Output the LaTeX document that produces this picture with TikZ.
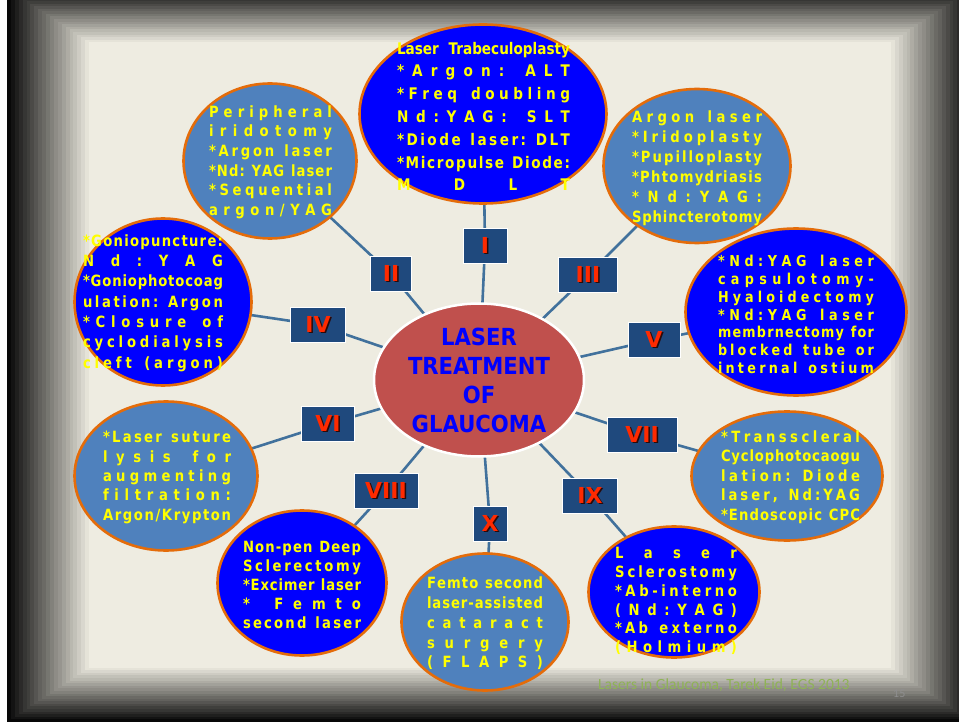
\documentclass[tikz,border=0pt]{standalone}
\usepackage{fontspec}
\usetikzlibrary{shapes.geometric}
\newfontfamily\tf{DejaVu Sans}[FakeStretch=0.85]
\newfontfamily\cf{DejaVu Sans}[FakeStretch=0.9]
\newfontfamily\rf{DejaVu Sans}
\newfontfamily\ff{Carlito}
\definecolor{pureblue}{HTML}{0000FF}
\definecolor{steel}{HTML}{4F81BD}
\definecolor{orng}{HTML}{E46C0A}
\definecolor{yel}{HTML}{FFFF00}
\definecolor{cred}{HTML}{C0504D}
\definecolor{navy}{HTML}{1F497D}
\definecolor{rred}{HTML}{FF2A00}
\definecolor{shdw}{HTML}{2A0A0A}
\definecolor{connc}{HTML}{41719C}
\definecolor{fdark}{HTML}{080808}
\definecolor{flight}{HTML}{EEECE1}
\definecolor{footc}{HTML}{8FB356}
\definecolor{pgc}{HTML}{8E8E8E}
% letter-spread line and word-justified line
\def\jl#1{\hbox to \hsize{\sprfirst#1\relax}}
\def\sprfirst#1{#1\sprnext}
\def\sprnext#1{\ifx#1\relax\else\hfil#1\expandafter\sprnext\fi}
\def\jw#1{\hbox to \hsize{\spaceskip=.3em plus 1fil\relax#1}}
\newcommand\blk[2]{\vbox{\hsize=#1pt\relax#2}}
\newcommand\shd[1]{\makebox[0pt][l]{\hspace{1.5pt}\raisebox{-1.5pt}{\color{shdw}#1}}#1}
\pgfdeclarelayer{bgl}
\pgfdeclarelayer{lnl}
\pgfsetlayers{bgl,lnl,main}
\tikzset{
  ob/.style={ellipse, draw=orng, line width=2.6pt, fill=pureblue, inner sep=0pt},
  os/.style={ellipse, draw=orng, line width=2.6pt, fill=steel, inner sep=0pt},
  txt/.style={text=yel, inner sep=0pt, font=\tf\bfseries\fontsize{15.5}{19.6}\selectfont},
  lab/.style={fill=navy, draw=white, line width=0.8pt, inner sep=0pt, text=rred,
    font=\rf\bfseries\fontsize{22}{22}\selectfont, minimum height=35pt},
  conn/.style={draw=connc, line width=2.6pt},
}
\begin{document}
\begin{tikzpicture}[x=1pt,y=-1pt]
\useasboundingbox (0,0) rectangle (959,722);
\begin{pgfonlayer}{bgl}
\fill[white] (0,0) rectangle (959,722);
\foreach \i in {0,...,21}{
  \pgfmathtruncatemacro\pc{100-\i*100/21}
  \fill[fdark!\pc!flight] (7+\i*86/22,-12+\i*57/22) rectangle (973-\i*86/22,722-\i*57/22);
}
\fill[flight] (93,45) rectangle (887,665);
\end{pgfonlayer}

% centre
\node[ellipse, fill=cred, draw=white, line width=2.5pt, minimum width=210pt, minimum height=153pt,
  inner sep=0pt, text=pureblue, font=\cf\bfseries\fontsize{23.5}{29}\selectfont, align=center]
  (c) at (479,380) {LASER\\TREATMENT\\OF\\GLAUCOMA};

% outer ellipses
\node[ob, minimum width=247pt, minimum height=179pt] (e1) at (483,114) {};
\node[os, minimum width=173pt, minimum height=155pt] (e2) at (270,161) {};
\node[os, minimum width=187pt, minimum height=154pt] (e3) at (697,166) {};
\node[ob, minimum width=177pt, minimum height=167pt] (e4) at (163,302) {};
\node[ob, minimum width=221pt, minimum height=167pt] (e5) at (796,312) {};
\node[os, minimum width=183pt, minimum height=149pt] (e6) at (166,476) {};
\node[os, minimum width=191pt, minimum height=129pt] (e7) at (787,476) {};
\node[ob, minimum width=169pt, minimum height=145pt] (e8) at (302,583) {};
\node[ob, minimum width=171pt, minimum height=131pt] (e9) at (674,592) {};
\node[os, minimum width=167pt, minimum height=137pt] (e10) at (485,622) {};

% texts
\node[txt, font=\tf\bfseries\fontsize{16}{22.8}\selectfont] (t1) at (483.5,116.5) {\blk{173}{%
  \jw{Laser Trabeculoplasty}\jl{*Argon:~ALT}\jl{*Freq~doubling}\jl{Nd:YAG:~SLT}%
  \jl{*Diode~laser:~DLT}\jl{*Micropulse~Diode:}\jl{MDLT}}};
\node[txt] (t2) at (270.5,162) {\blk{123}{%
  \jl{Peripheral}\jl{iridotomy}\jl{*Argon~laser}\jl{*Nd:~YAG~laser}\jl{*Sequential}\jl{argon/YAG}}};
\node[txt, font=\tf\bfseries\fontsize{15.5}{20}\selectfont] (t3) at (697,168) {\blk{130}{%
  \jl{Argon~laser}\jl{*Iridoplasty}\jl{*Pupilloplasty}\jl{*Phtomydriasis}\jl{*Nd:YAG:}\jl{Sphincterotomy}}};
\node[txt, font=\tf\bfseries\fontsize{15.5}{20.3}\selectfont] (t4) at (153,303) {\blk{140}{%
  \jl{*Goniopuncture:}\jl{Nd:YAG}\jl{*Goniophotocoag}\jl{ulation:~Argon}\jl{*Closure~of}%
  \jl{cyclodialysis}\jl{cleft~(argon)}}};
\node[txt, font=\tf\bfseries\fontsize{15}{17.8}\selectfont] (t5) at (796,314.5) {\blk{156}{%
  \jl{*Nd:YAG~laser}\jl{capsulotomy-}\jl{Hyaloidectomy}\jl{*Nd:YAG~laser}%
  \jl{membrnectomy~for}\jl{blocked~tube~or}\jl{internal~ostium}}};
\node[txt, font=\tf\bfseries\fontsize{15.5}{19.3}\selectfont] (t6) at (167,477.5) {\blk{128}{%
  \jl{*Laser~suture}\jl{lysis~for}\jl{augmenting}\jl{filtration:}\jl{Argon/Krypton}}};
\node[txt, font=\tf\bfseries\fontsize{15.5}{19.5}\selectfont] (t7) at (790.5,477) {\blk{139}{%
  \jl{*Transscleral}\jl{Cyclophotocaogu}\jl{lation:~Diode}\jl{laser,~Nd:YAG}\jl{*Endoscopic~CPC}}};
\node[txt, font=\tf\bfseries\fontsize{15.5}{19}\selectfont] (t8) at (302,585) {\blk{118}{%
  \jl{Non-pen~Deep}\jl{Sclerectomy}\jl{*Excimer~laser}\jl{*~Femto}\jl{second~laser}}};
\node[txt, font=\tf\bfseries\fontsize{15.5}{18.8}\selectfont] (t9) at (676,601) {\blk{122}{%
  \jl{Laser}\jl{Sclerostomy}\jl{*Ab-interno}\jl{(Nd:YAG)}\jl{*Ab~externo}\jl{(Holmium)}}};
\node[txt, font=\tf\bfseries\fontsize{15.5}{19.75}\selectfont] (t10) at (485,623.5) {\blk{116}{%
  \jl{Femto~second}\jl{laser-assisted}\jl{cataract}\jl{surgery}\jl{(FLAPS)}}};

% labels
\node[lab, minimum width=44pt] (l1) at (485,246) {\shd{I}};
\node[lab, minimum width=41pt] (l2) at (391,274) {\shd{II}};
\node[lab, minimum width=59pt] (l3) at (588,275) {\shd{III}};
\node[lab, minimum width=55pt] (l4) at (318,325) {\shd{IV}};
\node[lab, minimum width=52pt] (l5) at (654,340) {\shd{V}};
\node[lab, minimum width=53pt] (l6) at (328,424) {\shd{VI}};
\node[lab, minimum width=70pt] (l7) at (642,435) {\shd{VII}};
\node[lab, minimum width=64pt] (l8) at (386,491) {\shd{VIII}};
\node[lab, minimum width=55pt] (l9) at (590,496) {\shd{IX}};
\node[lab, minimum width=34pt] (l10) at (490,524) {\shd{X}};

% connectors
\begin{pgfonlayer}{lnl}
\foreach \k in {1,...,10}{
  \draw[conn] (c.center) -- (l\k.center) -- (e\k.center);
}
\end{pgfonlayer}

% footer
\node[font=\ff\fontsize{15.5}{15.5}\selectfont, text=footc, anchor=base west, inner sep=0pt]
  (ft) at (598,689) {Lasers in Glaucoma, Tarek Eid, EGS 2013};
\node[font=\ff\fontsize{12}{12}\selectfont, text=pgc, anchor=base west, inner sep=0pt]
  (pg) at (893,697) {15};
\end{tikzpicture}
\end{document}
